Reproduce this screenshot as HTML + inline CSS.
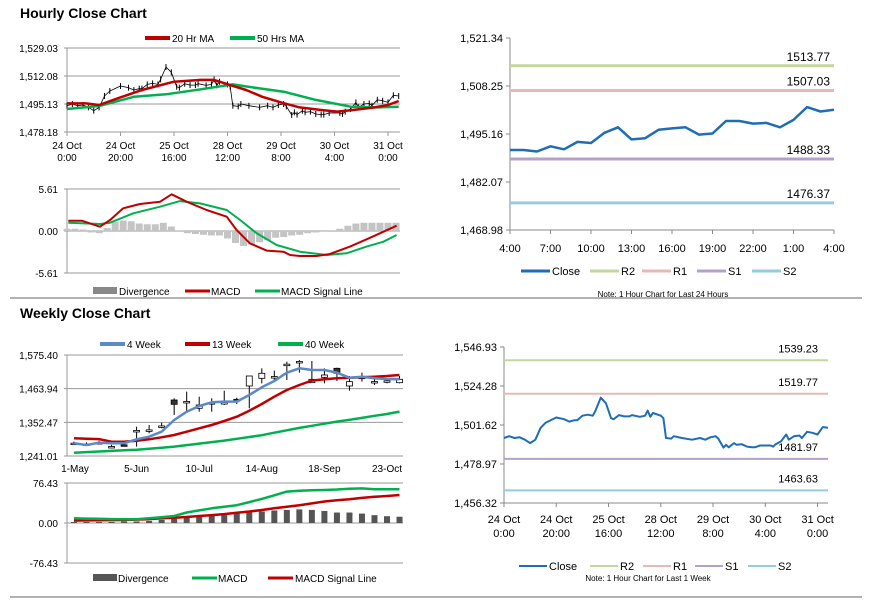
<!DOCTYPE html>
<html><head><meta charset="utf-8"><style>
html,body{margin:0;padding:0;background:#fff;}
svg{display:block;font-family:"Liberation Sans",Arial,sans-serif;}
</style></head><body>
<svg id="s" width="873" height="601" viewBox="0 0 873 601" xmlns="http://www.w3.org/2000/svg">
<text x="20" y="18" font-size="14" font-weight="bold">Hourly Close Chart</text>
<text x="20" y="318" font-size="14" font-weight="bold">Weekly Close Chart</text>
<line x1="10" y1="298" x2="862" y2="298" stroke="#999" stroke-width="1.5"/>
<line x1="10" y1="597" x2="862" y2="597" stroke="#999" stroke-width="1.5"/>
<g id="g"></g>
</svg>
<script>
// ---- data ----
const hourTicksLbl1 = ["24 Oct","24 Oct","25 Oct","28 Oct","29 Oct","30 Oct","31 Oct"];
const hourTicksLbl2 = ["0:00","20:00","16:00","12:00","8:00","4:00","0:00"];
const weekHours = [0,2,4,6,8,10,12,14,16,20,23,25,27,28,30,32,34,35,37,39,41,42,44,46,48,49,52,54,55,56,57,60,61,62,64,65,68,72,75,77,79,81,82,84,85,86,88,89,91,93,95,96,98,102,103,104,106,108,109,111,113,114,116,118,120,122,124];
const weekClose = [1494.1,1495.1,1494.1,1494.5,1493.1,1491.1,1493.1,1500.0,1503.0,1506.0,1505.0,1503.6,1504.4,1504.4,1507.0,1507.6,1507.0,1510.0,1517.5,1514.3,1505.6,1505.0,1507.4,1506.6,1506.6,1507.4,1506.4,1507.0,1510.0,1506.4,1508.6,1507.0,1505.6,1494.1,1493.7,1495.1,1494.1,1493.1,1494.1,1493.1,1494.5,1495.1,1493.7,1488.5,1490.1,1488.7,1491.1,1490.1,1490.5,1489.1,1488.7,1488.7,1489.7,1489.7,1489.1,1490.5,1492.1,1496.1,1493.1,1495.1,1495.5,1494.1,1497.7,1497.1,1496.1,1500.4,1500.0];
const ma20Hours = [0,7,12,19,28,40,50,55,61,67,73,81,87,95,101,107,115,120,124];
const ma20 = [1495.5,1495.5,1494.5,1498.6,1503.6,1508.6,1509.7,1509.7,1506.6,1503.6,1499.5,1495.6,1493.1,1491.5,1490.5,1491.5,1493.1,1494.5,1496.9];
const ma50Hours = [0,12,25,37,50,62,72,81,93,106,116,124];
const ma50 = [1492.1,1493.9,1499.5,1501,1504,1507,1504.6,1502.6,1497.6,1493.5,1493.1,1493.5];
const macdHHours = [0.5,5.5,12.3,16.1,21,27.3,34.8,39.1,44.7,52.2,59.7,63.4,68.4,74.6,80.9,83.4,87.1,93.3,98.3,105.8,112,118.3,123.2];
const macdH = [1.38,1.38,0.58,1.47,3.03,3.6,3.92,4.9,3.92,2.8,1.91,0.13,-1.65,-2.62,-2.76,-3.2,-3.34,-3.34,-3.07,-2.09,-1.11,-0.09,0.71];
const sigHHours = [0.5,12.3,16.1,24.8,34.8,42.2,49.7,59.7,64.7,70.9,78.4,87.1,97.1,104.5,112,118.3,123.2];
const sigH = [1.11,0.93,1.11,2.36,3.25,4.0,3.69,2.8,1.47,-0.31,-1.87,-2.76,-3.2,-2.98,-2.09,-1.43,-0.53];
const divHHours = [0,3,6,9,12,15,18,21,24,27,30,33,36,39,42,45,48,51,54,57,60,63,66,69,72,75,78,81,84,87,90,93,96,99,102,105,108,111,114,117,120,123];
const divH = [0.3,0.3,0.2,-0.2,-0.3,0.4,1.2,1.4,1.3,1.0,0.9,0.9,1.1,0.6,0.1,-0.3,-0.4,-0.5,-0.6,-0.6,-1.0,-1.6,-2.0,-1.8,-1.5,-1.2,-0.9,-0.8,-0.6,-0.5,-0.3,-0.2,-0.1,0.1,0.3,0.7,1.0,1.1,1.1,1.1,1.1,1.1];
const dayClose = [1490.8,1490.8,1490.4,1491.8,1491,1493,1492.7,1495.5,1497,1493.7,1494,1496.3,1496.7,1497,1495,1495.3,1498.7,1498.7,1498,1498.2,1497,1499,1502.5,1501.3,1501.8];
const dayLabels = ["4:00","7:00","10:00","13:00","16:00","19:00","22:00","1:00","4:00"];
const dayLevels = [1513.77,1507.03,1488.33,1476.37];
const weekLevels = [1539.23,1519.77,1481.97,1463.63];
const levelNames = ["R2","R1","S1","S2"];
const wkLabels = ["1-May","5-Jun","10-Jul","14-Aug","18-Sep","23-Oct"];
const wkOpen  = [1283,1281,1285,1272,1278,1324.9,1327,1340,1426.4,1421,1398.9,1413.2,1417.6,1428.7,1472.8,1498.2,1503.7,1544.5,1553.4,1483.8,1501.5,1531.3,1472.8,1501.5,1487.2,1489.4,1483.8];
const wkClose = [1283.5,1280.5,1285.5,1272.5,1277.5,1325.5,1327.5,1340.5,1412.1,1421.5,1409.9,1417.6,1418,1426.4,1505.9,1514.8,1504,1545,1554,1494.9,1509.2,1514.8,1487.2,1502,1487.6,1490,1494.9];
const wkHigh  = [1288.5,1286,1291,1278,1283,1338.1,1343.7,1351.4,1432,1454,1437.5,1432,1457.3,1434.2,1505.9,1531.3,1523.6,1553.4,1558.9,1555.6,1531.3,1533.5,1505.9,1517,1505.9,1498.2,1505.9];
const wkLow   = [1278,1275,1281,1266.4,1274,1271.9,1316.1,1332.6,1376.8,1387.8,1387.8,1387.8,1409.9,1413.2,1398.9,1481.6,1487.2,1492.7,1517,1483.8,1481.6,1489.4,1457.3,1487.2,1476.1,1481.6,1481.6];
const ma4  = [1283,1277.4,1285.2,1283,1283,1296.2,1305,1321.6,1360.2,1387.8,1406.6,1418.7,1421,1421,1443,1468.4,1489.4,1516.9,1531.3,1525.8,1525.8,1517,1500.4,1503.7,1498.2,1496,1494.9];
const ma13 = [1299.5,1298,1297,1288.5,1288.5,1291.8,1296.2,1302.8,1310.5,1321.6,1332.6,1343.7,1356.9,1371.2,1391.1,1413.2,1437.5,1459.6,1476.1,1490.5,1494.9,1498.2,1500.4,1501.5,1503.7,1505.9,1509.2];
const ma40 = [1252,1254,1256,1258,1260,1262,1265,1268,1272,1277,1282,1287,1292,1298,1304,1310,1318,1326,1334,1341,1348,1355,1361,1367,1374,1380,1388];
const wMacd = [8.9,8.5,8,7.5,7,7,9,11,13.4,20,24,28,31,34,40,46,53,60,61.8,62.5,63,64,65.5,66.2,64.5,64.3,64.3];
const wSig  = [4.5,5,5.2,5.5,5.7,6.5,7.5,8.9,10,11.5,13.4,15,17,19.7,22,24.8,28,31,34,37.5,41,43.5,45.5,48,50,51.5,53.5];
const wDiv  = [2,2,2,2,3,3,4,6,8,10,12,14,15,18,20,22,24,25,26,25,23,20,20,18,15,13,12];

// ---- helpers ----
const NS="http://www.w3.org/2000/svg", G=document.getElementById('g');
function el(t,a){const e=document.createElementNS(NS,t);for(const k in a)e.setAttribute(k,a[k]);G.appendChild(e);return e;}
function txt(x,y,s,size,anchor){const e=el('text',{x:x,y:y,'font-size':size||10,'text-anchor':anchor||'start',fill:'#000'});e.textContent=s;return e;}
function lin(d0,d1,r0,r1){return v=>r0+(v-d0)*(r1-r0)/(d1-d0);}
function poly(xs,ys,fx,fy,col,w){return el('polyline',{points:xs.map((x,i)=>fx(x).toFixed(1)+','+fy(ys[i]).toFixed(1)).join(' '),fill:'none',stroke:col,'stroke-width':w,'stroke-linejoin':'round'});}
const RED='#c00000',GRN='#00b050',BLUE='#1f6db5',BL4='#5b8ac8';
const LVC=['#c3d69b','#e6b9b8','#b3a2c7','#93cddd'];

// ===== Panel 1: hourly MA =====
{
 const fx=lin(0,120,67,388), fy=lin(1478.18,1529.03,132,48);
 const yt=[1478.18,1495.13,1512.08,1529.03];
 yt.forEach(v=>{let l=el('line',{x1:64,x2:400,y1:fy(v),y2:fy(v),stroke:'#999','stroke-width':1});
  
  let t=txt(58,fy(v)+4,v.toFixed(2).replace(/^(\d)(\d{3})/,'$1,$2'),10,'end');
  });
 let ax=el('line',{x1:67,x2:67,y1:48,y2:132,stroke:'#999'});
 
 hourTicksLbl1.forEach((s,i)=>{const x=fx(i*20);
  let tk=el('line',{x1:x,x2:x,y1:132,y2:136,stroke:'#999'});
  
  let a=txt(x,149,s,10,'middle');
  let b=txt(x,161,hourTicksLbl2[i],10,'middle');});
 weekHours.forEach((h,i)=>{const v=weekClose[i];
  let b=el('line',{x1:fx(h),x2:fx(h),y1:fy(v+1.8),y2:fy(v-1.8),stroke:'#000','stroke-width':1});
  });
 let c=poly(weekHours,weekClose,fx,fy,'#000',0.8);
 let m50=poly(ma50Hours,ma50,fx,fy,GRN,2.5);
 let m20=poly(ma20Hours,ma20,fx,fy,RED,2.5);
 let l1=el('line',{x1:145,x2:170,y1:38,y2:38,stroke:RED,'stroke-width':4});
 let t1=txt(172,42,'20 Hr MA',10);
 let l2=el('line',{x1:230,x2:255,y1:38,y2:38,stroke:GRN,'stroke-width':4});
 let t2=txt(257,42,'50 Hrs MA',10);
}
// ===== Panel 2: hourly MACD =====
{
 const fx=lin(0,120,67,388), fy=lin(-5.61,5.61,273,189);
 [-5.61,0,5.61].forEach(v=>{let l=el('line',{x1:64,x2:400,y1:fy(v),y2:fy(v),stroke:'#999'});
  
  let t=txt(58,fy(v)+4,v.toFixed(2),10,'end');});
 let ax=el('line',{x1:67,x2:67,y1:189,y2:273,stroke:'#999'});
 divHHours.forEach((h,i)=>{const v=divH[i];
  let r=el('rect',{x:fx(h)-3.5,width:7,y:Math.min(fy(v),fy(0)),height:Math.abs(fy(v)-fy(0)),fill:'#c4c4c4'});
  });
 let s=poly(sigHHours,sigH,fx,fy,GRN,2);
 let m=poly(macdHHours,macdH,fx,fy,RED,2);
 let r1=el('rect',{x:93,y:287,width:24,height:7,fill:'#888'});
 let a=txt(119,295,'Divergence',10);
 let l1=el('line',{x1:185,x2:210,y1:291,y2:291,stroke:RED,'stroke-width':3});
 let b=txt(211,295,'MACD',10);
 let l2=el('line',{x1:255,x2:280,y1:291,y2:291,stroke:GRN,'stroke-width':3});
 let c=txt(281,295,'MACD Signal Line',10);
}
// ===== Panel 3: weekly =====
{
 const fx=lin(0,25,74,387), fy=lin(1241.01,1575.40,456,355);
 [1241.01,1352.47,1463.94,1575.40].forEach(v=>{let l=el('line',{x1:64,x2:403,y1:fy(v),y2:fy(v),stroke:'#999'});
  
  let t=txt(58,fy(v)+4,v.toFixed(2).replace(/^(\d)(\d{3})/,'$1,$2'),10,'end');});
 let ax=el('line',{x1:67,x2:67,y1:355,y2:456,stroke:'#999'});
 wkLabels.forEach((s,i)=>{let t=txt(fx(i*5)+(i==0?1:0),472,s,10,'middle');});
 wkOpen.forEach((o,i)=>{const x=fx(i),c=wkClose[i];
  let w=el('line',{x1:x,x2:x,y1:fy(wkHigh[i]),y2:fy(wkLow[i]),stroke:'#000'});
  const top=fy(Math.max(o,c)),h=Math.max(1.5,Math.abs(fy(o)-fy(c)));
  let r=el('rect',{x:x-3,y:top,width:6,height:h,fill:c<o?'#333':'#fff',stroke:'#000','stroke-width':0.8});
  });
 const idx=ma4.map((_,i)=>i);
 let g40=poly(idx,ma40,fx,fy,GRN,2.5);
 let g13=poly(idx,ma13,fx,fy,RED,2.5);
 let g4=poly(idx,ma4,fx,fy,BL4,2.5);
 const lg=[[100,BL4,'4 Week','legend-4-week'],[185,RED,'13 Week','legend-13-week'],[278,GRN,'40 Week','legend-40-week']];
 lg.forEach(a=>{let l=el('line',{x1:a[0],x2:a[0]+25,y1:344,y2:344,stroke:a[1],'stroke-width':4});
  let t=txt(a[0]+27,348,a[2],10);});
}
// ===== Panel 4: weekly MACD =====
{
 const fx=lin(0,25,74,387), fy=lin(-76.43,76.43,563,483);
 [-76.43,0,76.43].forEach(v=>{let l=el('line',{x1:64,x2:403,y1:fy(v),y2:fy(v),stroke:'#999'});
  
  let t=txt(58,fy(v)+4,v.toFixed(2),10,'end');});
 let ax=el('line',{x1:67,x2:67,y1:483,y2:563,stroke:'#999'});
 wDiv.forEach((v,i)=>{let r=el('rect',{x:fx(i)-3,y:fy(v),width:6,height:fy(0)-fy(v),fill:'#555'});
  });
 const idx=wMacd.map((_,i)=>i);
 let s=poly(idx,wSig,fx,fy,RED,2.5);
 let m=poly(idx,wMacd,fx,fy,GRN,2.5);
 let r1=el('rect',{x:93,y:574,width:24,height:7,fill:'#555'});
 let a=txt(118,582,'Divergence',10);
 let l1=el('line',{x1:192,x2:217,y1:578,y2:578,stroke:GRN,'stroke-width':3});
 let b=txt(218,582,'MACD',10);
 let l2=el('line',{x1:268,x2:293,y1:578,y2:578,stroke:RED,'stroke-width':3});
 let c=txt(295,582,'MACD Signal Line',10);
}
// ===== Panel 5: last 24 hours =====
{
 const fx=lin(0,24,510,834), fy=lin(1468.98,1521.34,230,38);
 let ay=el('line',{x1:510,x2:510,y1:38,y2:230,stroke:'#888'});
 let axx=el('line',{x1:510,x2:834,y1:230,y2:230,stroke:'#888'});
 [1468.98,1482.07,1495.16,1508.25,1521.34].forEach(v=>{let tk=el('line',{x1:506,x2:510,y1:fy(v),y2:fy(v),stroke:'#888'});
  
  let t=txt(503,fy(v)+4,v.toFixed(2).replace(/^(\d)(\d{3})/,'$1,$2'),11,'end');});
 dayLabels.forEach((s,i)=>{const x=fx(i*3);let tk=el('line',{x1:x,x2:x,y1:230,y2:234,stroke:'#888'});
  
  let t=txt(x,252,s,11,'middle');});
 dayLevels.forEach((v,i)=>{let l=el('line',{x1:510,x2:834,y1:fy(v),y2:fy(v),stroke:LVC[i],'stroke-width':3});
  
  let t=txt(830,fy(v)-5,v.toFixed(2),12,'end');});
 let c=poly(dayClose.map((_,i)=>i),dayClose,fx,fy,BLUE,2.5);
 const lx=[521,590,642,697,752];const cols=[BLUE].concat(LVC);const names=['Close'].concat(levelNames);
 lx.forEach((x,i)=>{let l=el('line',{x1:x,x2:x+29,y1:271,y2:271,stroke:cols[i],'stroke-width':3});
  let t=txt(x+31,275,names[i],11);});
 let n=txt(663,297,'Note: 1 Hour Chart for Last 24 Hours',8,'middle');
}
// ===== Panel 6: last week hourly =====
{
 const fx=lin(0,124,504,828), fy=lin(1456.32,1546.93,503,347);
 let ay=el('line',{x1:504,x2:504,y1:347,y2:503,stroke:'#888'});
 let axx=el('line',{x1:504,x2:828,y1:503,y2:503,stroke:'#888'});
 [1456.32,1478.97,1501.62,1524.28,1546.93].forEach(v=>{let tk=el('line',{x1:500,x2:504,y1:fy(v),y2:fy(v),stroke:'#888'});
  
  let t=txt(497,fy(v)+4,v.toFixed(2).replace(/^(\d)(\d{3})/,'$1,$2'),11,'end');});
 hourTicksLbl1.forEach((s,i)=>{const x=fx(i*20);let tk=el('line',{x1:x,x2:x,y1:503,y2:507,stroke:'#888'});
  
  let a=txt(x,523,s,11,'middle');
  let b=txt(x,537,hourTicksLbl2[i],11,'middle');});
 weekLevels.forEach((v,i)=>{let l=el('line',{x1:504,x2:828,y1:fy(v),y2:fy(v),stroke:LVC[i],'stroke-width':2});
  
  let t=txt(818,fy(v)-8,v.toFixed(2),11,'end');});
 let c=poly(weekHours,weekClose,fx,fy,BLUE,2);
 const lx=[519,590,643,695,748];const cols=[BLUE].concat(LVC);const names=['Close'].concat(levelNames);
 lx.forEach((x,i)=>{let l=el('line',{x1:x,x2:x+28,y1:566,y2:566,stroke:cols[i],'stroke-width':2});
  let t=txt(x+30,570,names[i],11);});
 let n=txt(648,581,'Note: 1 Hour Chart for Last 1 Week',8,'middle');
}
</script>
</body></html>
